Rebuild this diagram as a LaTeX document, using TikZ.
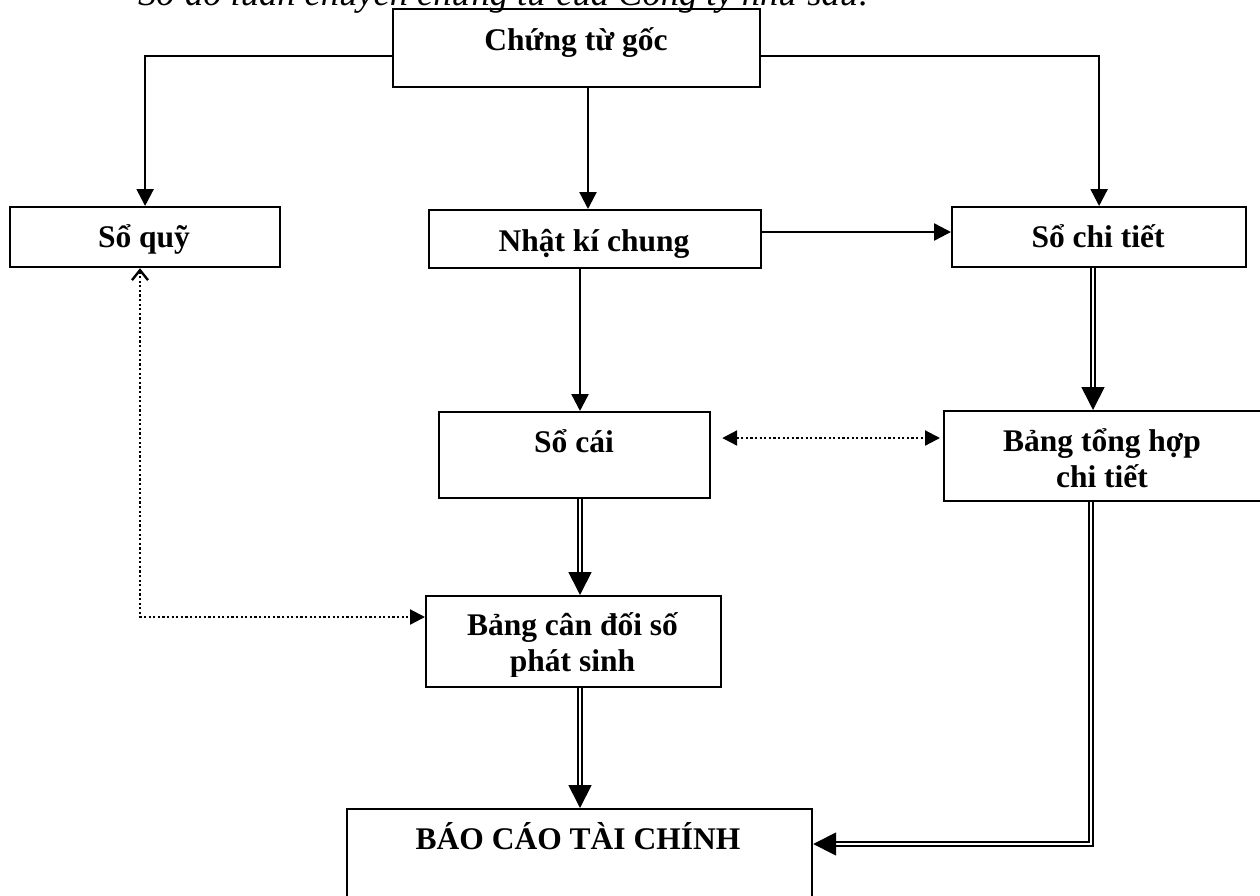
\documentclass[tikz,border=0pt]{standalone}
\usepackage{fontspec}
\setmainfont{Liberation Serif}
\usetikzlibrary{arrows.meta}
\begin{document}
\begin{tikzpicture}[x=1pt,y=-1pt,
  box/.style={draw, line width=2.2pt, inner sep=0pt, anchor=north west},
  lbl/.style={font=\bfseries\fontsize{31.5}{35.5}\selectfont, anchor=base, align=center, inner sep=0pt},
  arr/.style={line width=2.4pt, -{Triangle[length=17pt,width=17pt]}},
  dbl/.style={double, double distance=2.8pt, line width=1.7pt, -{Triangle[length=23pt,width=23pt]}},
  dots/.style={line width=2.2pt, dash pattern=on 2.2pt off 2.4pt},
]
\clip (0,0) rectangle (1260,895);

% heading line
\node[font=\itshape\fontsize{36.5}{40}\selectfont, anchor=base west, inner sep=0pt] (title) at (138,5)
  {Sơ đồ luân chuyển chứng từ của Công ty như sau:};

% boxes
\node[box, minimum width=367pt, minimum height=78pt] (goc)  at (392,8)   {};
\node[box, minimum width=270pt, minimum height=60pt] (quy)  at (9,206)   {};
\node[box, minimum width=332pt, minimum height=58pt] (nkc)  at (428,209) {};
\node[box, minimum width=294pt, minimum height=60pt] (sct)  at (951,206) {};
\node[box, minimum width=271pt, minimum height=86pt] (cai)  at (438,411) {};
\node[box, minimum width=320pt, minimum height=90pt] (bth)  at (943,410) {};
\node[box, minimum width=295pt, minimum height=91pt] (bcd)  at (425,595) {};
\node[box, minimum width=465pt, minimum height=100pt] (bctc) at (346,808) {};

% box texts (two-line texts are anchored at the baseline of their last line)
\node[lbl] (tgoc) at (576,50)  {Chứng từ gốc};
\node[lbl] (tquy) at (144,247) {Sổ quỹ};
\node[lbl] (tnkc) at (594,251) {Nhật kí chung};
\node[lbl] (tsct) at (1098,247) {Sổ chi tiết};
\node[lbl] (tcai) at (574,452) {Sổ cái};
\node[lbl] (tbth) at (1102,487) {Bảng tổng hợp\\chi tiết};
\begin{scope}
  \clip (bcd.north west) rectangle (720,676);
  \node[lbl] (tbcd) at (572.5,671) {Bảng cân đối số\\phát sinh};
\end{scope}
\node[lbl] (tbctc) at (578,849) {BÁO CÁO TÀI CHÍNH};

% single arrows
\draw[arr] (goc.west |- 0,56) -| (quy.north);
\draw[arr] (goc.east |- 0,56) -| (sct.north);
\draw[arr] (goc.south -| 588,0) -- (nkc.north -| 588,0);
\draw[arr] (nkc.east |- 0,232) -- (sct.west |- 0,232);
\draw[arr] (nkc.south -| 580,0) -- (cai.north -| 580,0);

% double arrows
\draw[dbl] (sct.south -| 1093,0) -- (bth.north -| 1093,0);
\draw[dbl] (cai.south -| 580,0) -- (bcd.north -| 580,0);
\draw[dbl] (bcd.south -| 580,0) -- (bctc.north -| 580,0);
\draw[dbl] (bth.south -| 1091,0) |- (bctc.east |- 0,844);

% dotted links
\draw[dots, {Straight Barb[length=10pt,width=16pt,line width=2.4pt]}-{Triangle[length=15pt,width=15pt]}]
  (quy.south -| 140,0) |- (bcd.west |- 0,617);
\draw[dots, shorten <=11pt, shorten >=3pt, {Triangle[length=15pt,width=15pt]}-{Triangle[length=15pt,width=15pt]}]
  (cai.east |- 0,438) -- (bth.west |- 0,438);
\end{tikzpicture}
\end{document}
